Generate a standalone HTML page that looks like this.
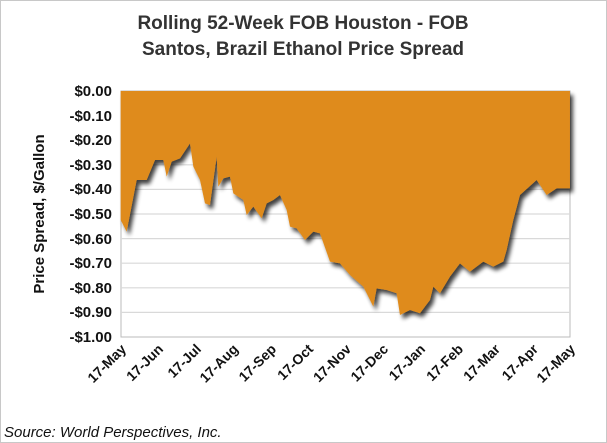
<!DOCTYPE html>
<html><head><style>
body{margin:0;background:#fff}
svg{display:block;font-family:"Liberation Sans",Arial,sans-serif}
</style></head><body>
<svg width="607" height="443" viewBox="0 0 607 443" xmlns="http://www.w3.org/2000/svg">
<defs>
<filter id="sh" x="-10%" y="-10%" width="130%" height="130%">
<feGaussianBlur in="SourceAlpha" stdDeviation="2"/>
<feOffset dx="3" dy="4" result="b"/>
<feComponentTransfer><feFuncA type="linear" slope="0.75"/></feComponentTransfer>
<feMerge><feMergeNode/><feMergeNode in="SourceGraphic"/></feMerge>
</filter>
</defs>
<rect x="0.5" y="0.5" width="606" height="442" fill="#fff" stroke="#c8c8c8"/>
<text x="303" y="29" text-anchor="middle" font-size="19" font-weight="bold" fill="#333">Rolling 52-Week FOB Houston - FOB</text>
<text x="303" y="55" text-anchor="middle" font-size="19" font-weight="bold" fill="#333">Santos, Brazil Ethanol Price Spread</text>
<rect x="121" y="91" width="449" height="246" fill="#fff" stroke="#bbb"/>
<g stroke="#d9d9d9" stroke-width="1.2">
<line x1="121" y1="115.6" x2="570" y2="115.6"/><line x1="121" y1="140.2" x2="570" y2="140.2"/>
<line x1="121" y1="164.8" x2="570" y2="164.8"/><line x1="121" y1="189.4" x2="570" y2="189.4"/>
<line x1="121" y1="214" x2="570" y2="214"/><line x1="121" y1="238.6" x2="570" y2="238.6"/>
<line x1="121" y1="263.2" x2="570" y2="263.2"/><line x1="121" y1="287.8" x2="570" y2="287.8"/>
<line x1="121" y1="312.4" x2="570" y2="312.4"/>
</g>
<g filter="url(#sh)">
<g transform="translate(100,80) scale(0.3333)">
<path fill="#df8b1e" d="M62,33 L1410,33 L1410,325 L1370,325 L1340,345 L1310,300 L1260,345 L1240,420 L1220,510 L1210,545 L1180,560 L1150,545 L1110,575 L1080,550 L1050,590 L1020,640 L1000,620 L990,660 L960,700 L930,690 L900,705 L890,640 L860,630 L830,625 L820,680 L790,620 L750,585 L720,550 L690,545 L660,460 L640,455 L615,480 L590,445 L570,440 L560,390 L540,345 L520,360 L500,370 L485,415 L460,380 L440,405 L430,360 L400,340 L390,290 L370,295 L355,320 L350,230 L330,375 L315,370 L300,300 L280,260 L270,190 L240,235 L215,245 L200,290 L190,240 L165,240 L140,300 L110,300 L80,455 L62,420 Z"/>
</g>
</g>
<g font-size="15" font-weight="bold" fill="#111" text-anchor="end">
<text x="112" y="96">$0.00</text><text x="112" y="121">-$0.10</text><text x="112" y="145">-$0.20</text>
<text x="112" y="170">-$0.30</text><text x="112" y="194">-$0.40</text><text x="112" y="219">-$0.50</text>
<text x="112" y="244">-$0.60</text><text x="112" y="268">-$0.70</text><text x="112" y="293">-$0.80</text>
<text x="112" y="317">-$0.90</text><text x="112" y="342">-$1.00</text>
</g>
<text transform="translate(44,214) rotate(-90)" text-anchor="middle" font-size="15" font-weight="bold" fill="#111">Price Spread, $/Gallon</text>
<g font-size="14" font-weight="bold" fill="#111" text-anchor="end">
<text transform="translate(127,350) rotate(-45)">17-May</text>
<text transform="translate(164,350) rotate(-45)">17-Jun</text>
<text transform="translate(202,350) rotate(-45)">17-Jul</text>
<text transform="translate(239,350) rotate(-45)">17-Aug</text>
<text transform="translate(277,350) rotate(-45)">17-Sep</text>
<text transform="translate(314,350) rotate(-45)">17-Oct</text>
<text transform="translate(352,350) rotate(-45)">17-Nov</text>
<text transform="translate(389,350) rotate(-45)">17-Dec</text>
<text transform="translate(426,350) rotate(-45)">17-Jan</text>
<text transform="translate(464,350) rotate(-45)">17-Feb</text>
<text transform="translate(501,350) rotate(-45)">17-Mar</text>
<text transform="translate(539,350) rotate(-45)">17-Apr</text>
<text transform="translate(576,350) rotate(-45)">17-May</text>
</g>
<text x="4" y="437" font-size="15" font-style="italic" fill="#111">Source: World Perspectives, Inc.</text>
</svg>
</body></html>
